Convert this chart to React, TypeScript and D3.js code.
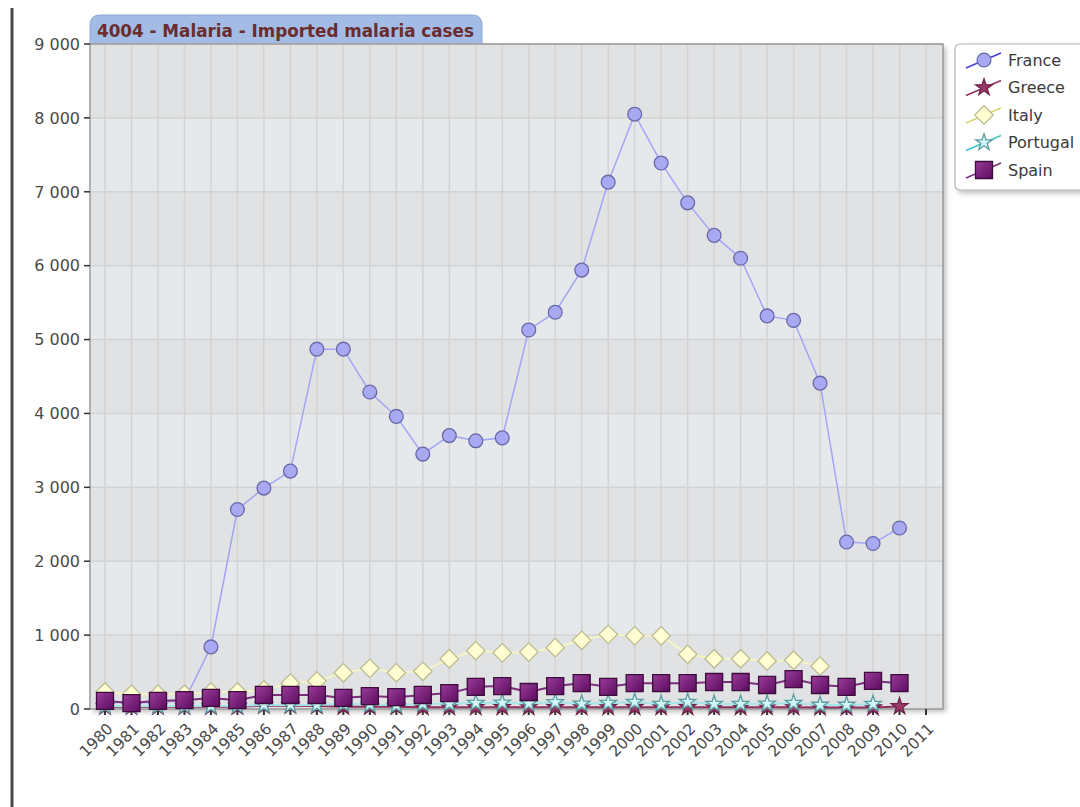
import React from "react";
import * as d3 from "d3";

// categories (x axis runs one year past the data)
const years = [
  "1980", "1981", "1982", "1983", "1984", "1985", "1986", "1987", "1988", "1989",
  "1990", "1991", "1992", "1993", "1994", "1995", "1996", "1997", "1998", "1999",
  "2000", "2001", "2002", "2003", "2004", "2005", "2006", "2007", "2008", "2009",
  "2010", "2011",
];

const yTicks = [0, 1000, 2000, 3000, 4000, 5000, 6000, 7000, 8000, 9000];

// series values, one per year from 1980 (null = no data)
const france = [
  90, 80, 90, 110, 840, 2700, 2990, 3220, 4870, 4870,
  4290, 3960, 3450, 3700, 3630, 3670, 5130, 5370, 5940, 7130,
  8050, 7390, 6850, 6410, 6100, 5320, 5260, 4410, 2260, 2240,
  2450,
];
const greece = [
  30, 30, 30, 30, 30, 30, 45, 45, 40, 30,
  30, 30, 25, 25, 25, 25, 25, 25, 25, 25,
  25, 25, 25, 25, 25, 25, 25, 20, 20, 20,
  35,
];
const italy = [
  230, 200, 200, 200, 230, 230, 260, 350, 380, 490,
  550, 490, 510, 680, 790, 760, 770, 830, 930, 1010,
  990, 990, 740, 680, 680, 650, 660, 580, null, null,
  null,
];
const portugal = [
  40, 40, 40, 40, 40, 45, 55, 55, 55, 70,
  60, 50, 70, 70, 80, 85, 75, 90, 70, 80,
  95, 68, 95, 68, 68, 70, 80, 55, 55, 68,
  null,
];
const spain = [
  110, 80, 110, 120, 150, 120, 190, 190, 190, 150,
  175, 160, 190, 215, 300, 310, 230, 310, 350, 300,
  350, 350, 350, 365, 365, 325, 405, 325, 300, 380,
  350,
];

type Kind = "circle" | "star" | "diamond" | "square";
interface Series {
  name: string;
  values: (number | null)[];
  line: string;
  legendLine: string;
  fill: string;
  stroke: string;
  kind: Kind;
  width: number;
}

const series: Series[] = [
  { name: "France", values: france, line: "#a4a4f6", legendLine: "#4040d0", fill: "#a9a9f3", stroke: "#6868a8", kind: "circle", width: 1.5 },
  { name: "Greece", values: greece, line: "#8e3060", legendLine: "#8e3060", fill: "#9b3a66", stroke: "#6e2048", kind: "star", width: 2 },
  { name: "Italy", values: italy, line: "#f4f4c6", legendLine: "#d4d470", fill: "#ffffd2", stroke: "#bcbc92", kind: "diamond", width: 2 },
  { name: "Portugal", values: portugal, line: "#a6e6e8", legendLine: "#40c4c8", fill: "#d2f6f6", stroke: "#5a9ea2", kind: "star", width: 2 },
  { name: "Spain", values: spain, line: "#7e2c7e", legendLine: "#7e2c7e", fill: "url(#spainGrad)", stroke: "#3c0c3c", kind: "square", width: 2 },
];

const W = 1080;
const H = 807;
const plot = { left: 90, right: 943, top: 44, bottom: 709 };

const x = d3.scalePoint<string>().domain(years).range([105, 926]);
const y = d3.scaleLinear().domain([0, 9000]).range([plot.bottom, plot.top]);

const fmt = (v: number) => d3.format(",")(v).replace(",", " ");

function markerPath(kind: Kind): string {
  if (kind === "circle") return d3.symbol(d3.symbolCircle, 150)()!;
  if (kind === "star") return d3.symbol(d3.symbolStar, 85)()!;
  return d3.symbol(d3.symbolSquare, kind === "square" ? 290 : 170)()!;
}

function Marker({ s, cx, cy }: { s: Series; cx: number; cy: number }) {
  const rot = s.kind === "diamond" ? 45 : 0;
  return (
    <path
      d={markerPath(s.kind)}
      transform={`translate(${cx},${cy}) rotate(${rot})`}
      fill={s.fill}
      stroke={s.stroke}
      strokeWidth={1.3}
    />
  );
}

export default function App() {
  const line = d3
    .line<number | null>()
    .defined((d) => d !== null)
    .x((_, i) => x(years[i])!)
    .y((d) => y(d as number));

  const bands = yTicks.slice(0, -1);
  const font = "'DejaVu Sans', Verdana, sans-serif";

  return (
    <svg width={W} height={H} style={{ position: "absolute", left: 0, top: 0, background: "#fff" }} fontFamily={font}>
      <defs>
        <linearGradient id="spainGrad" x1="0" y1="0" x2="1" y2="1">
          <stop offset="0" stopColor="#9a3c9a" />
          <stop offset="1" stopColor="#5c0c5e" />
        </linearGradient>
        <filter id="shadow" x="-5%" y="-5%" width="115%" height="115%">
          <feDropShadow dx="3" dy="3" stdDeviation="2.5" floodColor="#000" floodOpacity="0.25" />
        </filter>
      </defs>

      {/* page edge */}
      <line x1={12} x2={12} y1={8} y2={H} stroke="#4a4a4a" strokeWidth={3} />

      {/* title tab */}
      <path
        d={`M90,44 L90,25 Q90,15 100,15 L472,15 Q482,15 482,25 L482,44 Z`}
        fill="#a2bce6"
        stroke="#8ea6d0"
        strokeWidth={1}
      />
      <text x={97} y={37} fontSize={16.8} fontWeight="bold" fill="#6a2c2c">
        4004 - Malaria - Imported malaria cases
      </text>

      {/* plot background */}
      <rect
        x={plot.left}
        y={plot.top}
        width={plot.right - plot.left}
        height={plot.bottom - plot.top}
        fill="#e4e6e9"
        filter="url(#shadow)"
      />
      {bands.map((v, i) => (
        <rect
          key={v}
          x={plot.left}
          y={y(v + 1000)}
          width={plot.right - plot.left}
          height={y(v) - y(v + 1000)}
          fill={i % 2 === 0 ? "#e1e2e4" : "#e6e9ec"}
        />
      ))}
      {years.map((yr) => (
        <line key={yr} x1={x(yr)} x2={x(yr)} y1={plot.top} y2={plot.bottom} stroke="#d3d3d3" strokeWidth={1.5} />
      ))}
      {yTicks.map((v) => (
        <line key={v} x1={plot.left} x2={plot.right} y1={y(v)} y2={y(v)} stroke="#d3d3d3" strokeWidth={1.5} />
      ))}
      <rect
        x={plot.left}
        y={plot.top}
        width={plot.right - plot.left}
        height={plot.bottom - plot.top}
        fill="none"
        stroke="#9a9a9a"
        strokeWidth={1.5}
      />

      {/* y axis */}
      {yTicks.map((v) => (
        <g key={v}>
          <line x1={84} x2={plot.left} y1={y(v)} y2={y(v)} stroke="#333" strokeWidth={1.5} />
          <text x={80} y={y(v)} dy="0.36em" textAnchor="end" fontSize={16} fill="#4a4a4a">
            {fmt(v)}
          </text>
        </g>
      ))}

      {/* x axis */}
      {years.map((yr) => (
        <g key={yr}>
          <line x1={x(yr)} x2={x(yr)} y1={plot.bottom} y2={plot.bottom + 6} stroke="#333" strokeWidth={2} />
          <text
            transform={`translate(${x(yr)! + 5},${plot.bottom + 17}) rotate(-45)`}
            textAnchor="end"
            dy="0.35em"
            fontSize={15.5}
            fill="#4a4a4a"
          >
            {yr}
          </text>
        </g>
      ))}

      {/* series */}
      {series.map((s) => (
        <g key={s.name}>
          <path d={line(s.values)!} fill="none" stroke={s.line} strokeWidth={s.width} />
          {s.values.map((v, i) =>
            v === null ? null : <Marker key={i} s={s} cx={x(years[i])!} cy={y(v)} />
          )}
        </g>
      ))}

      {/* legend */}
      <rect x={955} y={44} width={140} height={146} rx={5} fill="#fff" stroke="#b4b4b4" strokeWidth={1.2} filter="url(#shadow)" />
      {series.map((s, i) => {
        const cy = 60 + i * 27.5;
        return (
          <g key={s.name}>
            <line x1={966} y1={cy + 8} x2={1001} y2={cy - 7} stroke={s.legendLine} strokeWidth={1.5} />
            <Marker s={s} cx={984} cy={cy} />
            <text x={1008} y={cy} dy="0.36em" fontSize={16} fill="#3a3a3a">
              {s.name}
            </text>
          </g>
        );
      })}
    </svg>
  );
}
